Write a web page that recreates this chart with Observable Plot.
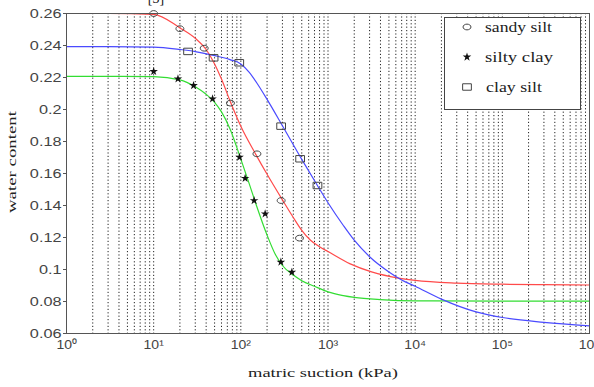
<!DOCTYPE html>
<html><head><meta charset="utf-8">
<script src="https://cdn.jsdelivr.net/npm/d3@7"></script>
<script src="https://cdn.jsdelivr.net/npm/@observablehq/plot@0.6"></script>
<style>body{margin:0;background:#fff}</style>
</head><body><div id="chart"></div>
<script>
// measured points
const sandySiltSuction = [10, 20, 38, 76, 153, 290, 471];
const sandySiltWater   = [0.26, 0.2505, 0.2383, 0.204, 0.1723, 0.1431, 0.1196];
const siltyClaySuction = [10, 19, 28.7, 47.4, 96.6, 112, 142, 190, 288, 385];
const siltyClayWater   = [0.2238, 0.2192, 0.215, 0.2067, 0.1702, 0.157, 0.1431, 0.1348, 0.1046, 0.0983];
const claySiltSuction  = [24.8, 48.7, 95.9, 290, 479, 757];
const claySiltWater    = [0.2363, 0.2323, 0.2292, 0.1896, 0.1692, 0.1525];

// fitted curves
const sandySiltFitSuction = [1, 3, 10, 20, 30, 40, 50, 60, 75, 100, 150, 200, 300, 400, 500, 630, 800, 1000, 1800, 3160, 6700, 10000, 30000, 100000, 300000, 1000000];
const sandySiltFit        = [0.26, 0.26, 0.2595, 0.251, 0.2445, 0.2375, 0.2285, 0.219, 0.2055, 0.1895, 0.1715, 0.1595, 0.1435, 0.1325, 0.1245, 0.1183, 0.1142, 0.1112, 0.1035, 0.0985, 0.0945, 0.0932, 0.0915, 0.0908, 0.0905, 0.0903];

const siltyClayFitSuction = [1, 3, 10, 20, 30, 40, 50, 60, 75, 100, 125, 150, 200, 250, 300, 400, 500, 700, 1000, 1500, 2000, 4000, 10000, 100000, 1000000];
const siltyClayFit        = [0.2207, 0.2207, 0.2205, 0.2185, 0.2142, 0.2095, 0.2045, 0.1985, 0.188, 0.169, 0.1535, 0.1405, 0.1215, 0.1092, 0.1025, 0.0965, 0.093, 0.0895, 0.086, 0.0837, 0.0826, 0.0812, 0.0804, 0.0802, 0.0802];

const claySiltFitSuction = [1, 3, 10, 20, 30, 50, 75, 100, 125, 150, 200, 300, 500, 750, 1000, 1500, 2000, 3000, 5000, 7000, 10000, 20000, 50000, 100000, 300000, 1000000];
const claySiltFit        = [0.2393, 0.2393, 0.239, 0.2375, 0.2362, 0.2337, 0.2312, 0.2285, 0.2232, 0.2172, 0.2063, 0.1898, 0.1688, 0.1528, 0.1417, 0.1275, 0.1183, 0.108, 0.0985, 0.0935, 0.0895, 0.0815, 0.0735, 0.07, 0.067, 0.0648];

// axes
const xDecades = [1, 10, 100, 1000, 10000, 100000, 1000000];
const xDecadeLabels = ["10⁰", "10¹", "10²", "10³", "10⁴", "10⁵", "10⁶"];
const minorMultipliers = [1, 2, 3, 4, 5, 6, 7, 8, 9];
const yTicks = [0.06, 0.08, 0.1, 0.12, 0.14, 0.16, 0.18, 0.2, 0.22, 0.24, 0.26];
const yTickLabels = ["0.06", "0.08", "0.1", "0.12", "0.14", "0.16", "0.18", "0.2", "0.22", "0.24", "0.26"];

const seriesNames = ["sandy silt", "silty clay", "clay silt"];
const seriesColors = ["#ff4a4a", "#33dd33", "#4a4aff"];

const gridX = xDecades.slice(0, -1).flatMap(d => minorMultipliers.map(m => d * m)).filter(v => v > 1);

const fitRows = [];
[[sandySiltFitSuction, sandySiltFit], [siltyClayFitSuction, siltyClayFit], [claySiltFitSuction, claySiltFit]]
  .forEach(([xs, ys], i) => xs.forEach((s, j) => fitRows.push({s, w: ys[j], series: seriesNames[i]})));
const pts = (xs, ys) => xs.map((x, i) => ({x, y: ys[i]}));

const ellipse = {draw(ctx, size) {
  const r = Math.sqrt(size / Math.PI), rx = r * 1.1, ry = r * 0.8, k = 0.5523;
  ctx.moveTo(rx, 0);
  ctx.bezierCurveTo(rx, ry * k, rx * k, ry, 0, ry);
  ctx.bezierCurveTo(-rx * k, ry, -rx, ry * k, -rx, 0);
  ctx.bezierCurveTo(-rx, -ry * k, -rx * k, -ry, 0, -ry);
  ctx.bezierCurveTo(rx * k, -ry, rx, -ry * k, rx, 0);
  ctx.closePath();
}};
const rectSym = {draw(ctx, size) {
  const r = Math.sqrt(size / Math.PI), w = r * 1.15, h = r * 0.85;
  ctx.moveTo(-w, -h); ctx.lineTo(w, -h); ctx.lineTo(w, h); ctx.lineTo(-w, h); ctx.closePath();
}};

const colorOf = Object.fromEntries(seriesNames.map((n, i) => [n, seriesColors[i]]));

const chart = Plot.plot({
  width: 594, height: 387,
  marginLeft: 66, marginRight: 5, marginTop: 13, marginBottom: 54,
  style: {background: "#fff", fontFamily: "Liberation Sans, Arial, sans-serif"},
  x: {type: "log", domain: [1, 1e6]},
  y: {domain: [0.06, 0.26]},
  marks: [
    Plot.ruleX(gridX, {stroke: "#222", strokeDasharray: "1.2,2.2", strokeWidth: 1}),
    Plot.axisX({ticks: xDecades, tickFormat: d => xDecadeLabels[xDecades.indexOf(d)], tickSize: 0, tickPadding: 7, fontSize: 12.5, fill: "#444", label: null}),
    Plot.axisY({ticks: yTicks, tickFormat: d => yTickLabels[yTicks.findIndex(t => Math.abs(t - d) < 1e-9)], tickSize: 3, tickPadding: 2, fontSize: 12.5, fill: "#444", stroke: "#555", label: null}),
    Plot.line(fitRows, {x: "s", y: "w", z: "series", stroke: d => colorOf[d.series], curve: "monotone-x", strokeWidth: 1.2}),
    Plot.dot(pts(sandySiltSuction, sandySiltWater), {x: "x", y: "y", symbol: ellipse, r: 3.6, stroke: "#444", strokeWidth: 1, fill: "none"}),
    Plot.dot(pts(claySiltSuction, claySiltWater), {x: "x", y: "y", symbol: rectSym, r: 3.8, stroke: "#444", strokeWidth: 1, fill: "none"}),
    Plot.dot(pts(siltyClaySuction, siltyClayWater), {x: "x", y: "y", symbol: "star", r: 2.7, fill: "#111", stroke: "none"}),
    Plot.frame({stroke: "#555", strokeWidth: 1})
  ]
});
document.getElementById("chart").appendChild(chart);

const svg = d3.select(chart);
// widen tick labels horizontally like the (stretched) original
svg.selectAll('[aria-label="y-axis tick label"] text').each(function() {
  const L = this.getComputedTextLength();
  this.setAttribute("textLength", L * 1.3); this.setAttribute("lengthAdjust", "spacingAndGlyphs");
});
svg.selectAll('[aria-label="x-axis tick label"] text').each(function() {
  const L = this.getComputedTextLength();
  this.setAttribute("textLength", L * 1.12); this.setAttribute("lengthAdjust", "spacingAndGlyphs");
});

svg.append("text").attr("x", 156).attr("y", 3).attr("text-anchor", "middle")
  .style("font", "14px 'Liberation Serif', serif").attr("fill", "#111").text("[3]");
svg.append("text").attr("x", 323).attr("y", 377).attr("text-anchor", "middle")
  .attr("textLength", 150).attr("lengthAdjust", "spacingAndGlyphs")
  .style("font", "13px 'Liberation Serif', serif").attr("fill", "#222").text("matric suction (kPa)");
svg.append("text").attr("transform", "translate(16,162) rotate(-90)").attr("text-anchor", "middle")
  .attr("textLength", 102).attr("lengthAdjust", "spacingAndGlyphs")
  .style("font", "13px 'Liberation Serif', serif").attr("fill", "#222").text("water content");

// legend
const lg = svg.append("g");
lg.append("rect").attr("x", 444.5).attr("y", 17.5).attr("width", 136).attr("height", 92)
  .attr("fill", "#fff").attr("stroke", "#444").attr("stroke-width", 1);
const legendMarks = [
  d3.symbol(ellipse, Math.PI * 3.6 * 3.6)(),
  d3.symbol(d3.symbolStar, Math.PI * 2.7 * 2.7)(),
  d3.symbol(rectSym, Math.PI * 3.8 * 3.8)()
];
const legendTextLen = [67, 68, 56];
seriesNames.forEach((name, i) => {
  const cy = 27 + i * 30;
  lg.append("path").attr("d", legendMarks[i]).attr("transform", `translate(467,${cy})`)
    .attr("fill", i === 1 ? "#111" : "none").attr("stroke", i === 1 ? "none" : "#444");
  lg.append("text").attr("x", i === 2 ? 486 : 485).attr("y", cy + 5).attr("text-anchor", "start")
    .attr("textLength", legendTextLen[i]).attr("lengthAdjust", "spacingAndGlyphs")
    .style("font", "14px 'Liberation Serif', serif").attr("fill", "#222").text(name);
});
</script>
</body></html>
